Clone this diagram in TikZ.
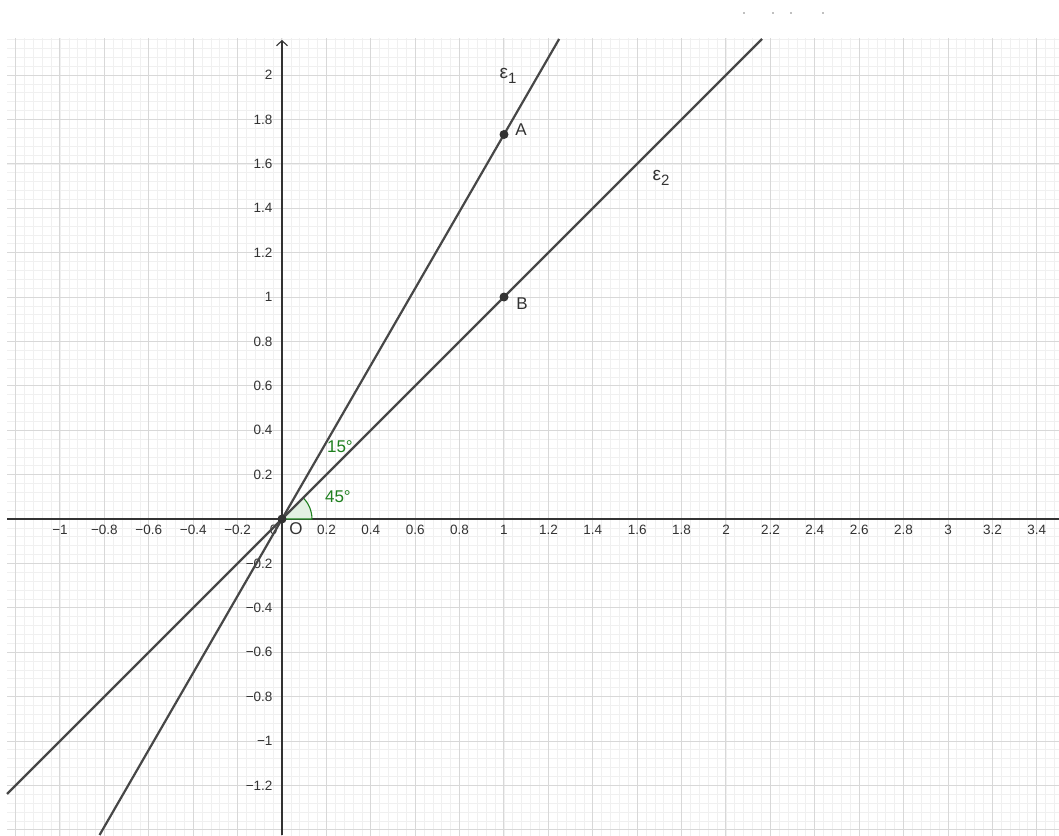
\documentclass[tikz,border=0pt]{standalone}
\usepackage{fontspec}
\setmainfont{Liberation Sans}
\usetikzlibrary{arrows.meta}
\definecolor{gmaj}{HTML}{D8D8D8}
\definecolor{gmin}{HTML}{F0F0F0}
\definecolor{axc}{HTML}{333333}
\definecolor{lnc}{HTML}{474747}
\definecolor{ggreen}{HTML}{1E7F1E}
\definecolor{gfill}{HTML}{E3F1E3}
\begin{document}
\begin{tikzpicture}[x=222pt,y=222pt,
  tick/.style={font=\fontsize{13.5}{13.5}\selectfont, text=axc, inner sep=0pt},
  xtick/.style={tick, anchor=north},
  ytick/.style={tick, anchor=east},
  ptlabel/.style={font=\fontsize{17}{17}\selectfont, text=axc, inner sep=0pt},
  epslabel/.style={font=\fontsize{19}{19}\selectfont, text=axc, inner sep=0pt},
  anglabel/.style={font=\fontsize{17}{17}\selectfont, text=ggreen, inner sep=0pt},
  pointdot/.style={circle, fill=axc, inner sep=0pt, minimum size=9pt},
  geoline/.style={lnc, line width=2.2pt},
  axisline/.style={axc, line width=1.1pt}]
\useasboundingbox (-1.27027,-1.42342) rectangle (3.5,2.33784);
\fill[white] (-1.27027,-1.42342) rectangle (3.5,2.33784);
% grid
\begin{scope}
\clip (-1.2387,-1.42342) rectangle (3.5,2.1622);
\draw[gmin, line width=0.7pt, step=0.04] (-1.28,-1.48) grid (3.52,2.2);
\draw[gmaj, line width=1pt, step=0.2] (-1.4,-1.6) grid (3.6,2.2);
\end{scope}
% small marks at the top
\fill[gray] (2.0811,2.2793) circle (0.9pt);
\fill[gray] (2.2117,2.2793) circle (0.9pt);
\fill[gray] (2.2928,2.2793) circle (0.9pt);
\fill[gray] (2.4369,2.2793) circle (0.9pt);
% axes
\coordinate (xl) at (-1.2387,0);
\coordinate (xr) at (3.5,0);
\coordinate (yb) at (0,-1.42342);
\coordinate (yt) at (0,2.1577);
\draw[axisline] (xl) -- (xr);
\draw[axisline, -{Straight Barb[length=5pt,width=11pt,line width=1.1pt]}] (yb) -- (yt);
% x tick labels
\foreach \v/\t in {-1/−1,-0.8/−0.8,-0.6/−0.6,-0.4/−0.4,-0.2/−0.2,0.2/0.2,0.4/0.4,0.6/0.6,0.8/0.8,1/1,1.2/1.2,1.4/1.4,1.6/1.6,1.8/1.8,2/2,2.2/2.2,2.4/2.4,2.6/2.6,2.8/2.8,3/3,3.2/3.2,3.4/3.4}
  \node[xtick] (xt\v) at (\v,-0.027) {\t};
\node[tick, anchor=north east] (x0) at (-0.02,-0.027) {0};
% y tick labels
\foreach \v/\t in {2/2,1.8/1.8,1.6/1.6,1.4/1.4,1.2/1.2,1/1,0.8/0.8,0.6/0.6,0.4/0.4,0.2/0.2,-0.2/−0.2,-0.4/−0.4,-0.6/−0.6,-0.8/−0.8,-1/−1,-1.2/−1.2}
  \node[ytick] (yt\v) at (-0.042,\v) {\t};
% angle sector
\coordinate (O) at (0,0);
\fill[gfill] (O) -- (0.135,0) arc[start angle=0,end angle=45,radius=0.135] -- cycle;
\draw[ggreen, line width=1.1pt] (O) -- (0.135,0) arc[start angle=0,end angle=45,radius=0.135] -- cycle;
% lines
\coordinate (e1s) at (-0.8218,-1.42342);
\coordinate (e1e) at (1.2484,2.1622);
\coordinate (e2s) at (-1.2387,-1.2387);
\coordinate (e2e) at (2.1622,2.1622);
\draw[geoline] (e1s) -- (e1e);
\draw[geoline] (e2s) -- (e2e);
% points
\node[pointdot] (Opt) at (0,0) {};
\node[pointdot] (A) at (1,1.73205) {};
\node[pointdot] (B) at (1,1) {};
% labels
\node[ptlabel] (Alab) at (1.077,1.756) {A};
\node[ptlabel] (Blab) at (1.081,0.968) {B};
\node[ptlabel] (Olab) at (0.063,-0.045) {O};
\node[epslabel] (e1lab) at (1.018,1.997) {ε\raisebox{-5pt}{\fontsize{15}{15}\selectfont 1}};
\node[epslabel] (e2lab) at (1.707,1.538) {ε\raisebox{-5pt}{\fontsize{15}{15}\selectfont 2}};
\node[anglabel] (a15) at (0.261,0.324) {15°};
\node[anglabel] (a45) at (0.252,0.099) {45°};
\end{tikzpicture}
\end{document}
